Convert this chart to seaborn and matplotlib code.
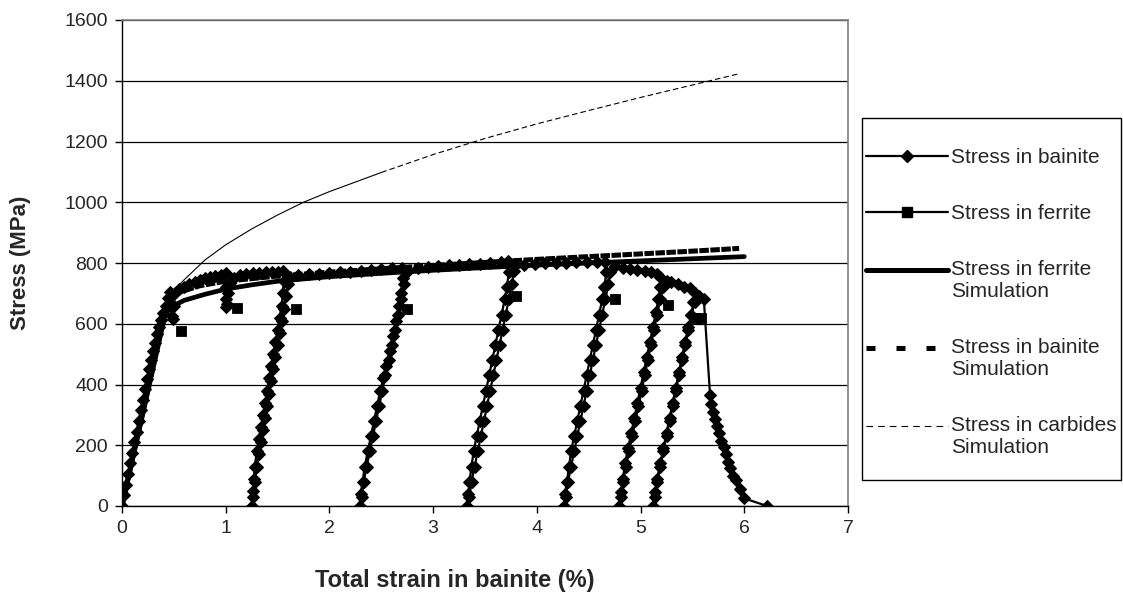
import numpy as np
import pandas as pd
import matplotlib
matplotlib.use("Agg")
import matplotlib.pyplot as plt
from matplotlib.lines import Line2D
from matplotlib.patches import Rectangle
from matplotlib.legend_handler import HandlerLine2D
from matplotlib.transforms import Affine2D
import seaborn as sns

# experimental stress in bainite (loading / unloading cycles)
bainite_strain = [
    0.00, 0.02, 0.04, 0.06, 0.08, 0.10, 0.12, 0.14, 0.16, 0.18, 0.20, 0.22, 0.24, 0.26, 0.28, 0.30,
    0.32, 0.34, 0.36, 0.38, 0.40, 0.42, 0.44, 0.46, 0.47, 0.48, 0.49, 0.50, 0.51,
    0.55, 0.60, 0.65, 0.70, 0.75, 0.80, 0.85, 0.90, 0.95, 1.00,
    1.00, 1.00, 1.00, 1.01, 1.02, 1.04, 1.08, 1.14, 1.20, 1.26, 1.32, 1.39, 1.45, 1.50, 1.55,
    # cycle 1
    1.56, 1.55, 1.54, 1.52, 1.50, 1.48, 1.46, 1.44, 1.42, 1.40, 1.38, 1.36, 1.34, 1.32, 1.30, 1.28, 1.27, 1.26, 1.25,
    1.26, 1.28, 1.30, 1.32, 1.34, 1.36, 1.38, 1.40, 1.42, 1.44, 1.46, 1.48, 1.50, 1.52, 1.54, 1.56, 1.58, 1.60, 1.62,
    1.70, 1.80, 1.90, 2.00, 2.10, 2.20, 2.30, 2.40, 2.50, 2.60, 2.70,
    # cycle 2
    2.71, 2.69, 2.67, 2.64, 2.61, 2.58, 2.55, 2.52, 2.49, 2.46, 2.43, 2.40, 2.37, 2.34, 2.32, 2.30, 2.29,
    2.31, 2.33, 2.36, 2.39, 2.42, 2.45, 2.48, 2.51, 2.54, 2.57, 2.60, 2.63, 2.66, 2.69, 2.72, 2.75,
    2.85, 2.95, 3.05, 3.15, 3.25, 3.35, 3.45, 3.55, 3.65, 3.72,
    # cycle 3
    3.73, 3.71, 3.69, 3.66, 3.63, 3.60, 3.57, 3.54, 3.51, 3.48, 3.45, 3.42, 3.39, 3.37, 3.35, 3.34, 3.33,
    3.35, 3.37, 3.40, 3.43, 3.46, 3.49, 3.52, 3.55, 3.58, 3.61, 3.64, 3.67, 3.70, 3.73, 3.76, 3.78,
    3.88, 3.98, 4.08, 4.18, 4.28, 4.38, 4.48, 4.58, 4.66,
    # cycle 4
    4.67, 4.65, 4.63, 4.60, 4.57, 4.54, 4.51, 4.48, 4.45, 4.42, 4.39, 4.36, 4.33, 4.31, 4.29, 4.27, 4.26,
    4.28, 4.30, 4.33, 4.36, 4.39, 4.42, 4.45, 4.48, 4.51, 4.54, 4.57, 4.60, 4.63, 4.66, 4.69, 4.71,
    4.75, 4.83, 4.90, 4.97, 5.04, 5.10, 5.16, 5.19,
    # cycle 5
    5.19, 5.17, 5.15, 5.12, 5.09, 5.06, 5.03, 5.00, 4.97, 4.94, 4.91, 4.88, 4.85, 4.83, 4.81, 4.79,
    4.81, 4.83, 4.86, 4.89, 4.92, 4.95, 4.98, 5.01, 5.04, 5.07, 5.10, 5.13, 5.16, 5.19, 5.22, 5.25,
    5.29, 5.36, 5.42, 5.48, 5.52,
    # cycle 6
    5.51, 5.49, 5.46, 5.43, 5.40, 5.37, 5.34, 5.31, 5.28, 5.25, 5.22, 5.19, 5.16, 5.14, 5.12,
    5.14, 5.16, 5.19, 5.22, 5.25, 5.28, 5.31, 5.34, 5.37, 5.40, 5.43, 5.46, 5.49, 5.52, 5.56, 5.61,
    # final failure
    5.67, 5.68, 5.70, 5.72, 5.74, 5.76, 5.78, 5.80, 5.82, 5.84, 5.86, 5.89, 5.92, 5.96, 6.00, 6.22,
]
bainite_stress = [
    0, 35, 70, 105, 140, 175, 210, 245, 280, 315, 350, 385, 418, 450, 480, 510,
    538, 565, 590, 612, 634, 660, 685, 705, 665, 625, 615, 660, 700,
    715, 722, 730, 738, 744, 750, 755, 758, 762, 768,
    720, 680, 655, 665, 700, 735, 752, 760, 765, 768, 768, 770, 770, 772, 775,
    740, 700, 660, 620, 580, 540, 500, 460, 420, 380, 340, 300, 260, 220, 180, 130, 90, 50, 0,
    30, 80, 130, 170, 210, 250, 290, 330, 370, 410, 450, 490, 530, 570, 610, 650, 690, 730, 755,
    760, 763, 765, 768, 770, 772, 775, 778, 780, 782, 785,
    750, 700, 660, 610, 560, 510, 460, 420, 380, 330, 280, 230, 180, 130, 80, 40, 0,
    30, 80, 130, 180, 230, 280, 330, 380, 430, 480, 530, 580, 630, 680, 730, 770,
    782, 787, 790, 792, 794, 796, 798, 800, 802, 805,
    770, 720, 680, 630, 580, 530, 480, 430, 380, 330, 280, 230, 180, 130, 80, 40, 0,
    30, 80, 130, 180, 230, 280, 330, 380, 430, 480, 530, 580, 630, 680, 730, 775,
    795, 798, 800, 800, 801, 802, 802, 803, 804,
    770, 720, 680, 630, 580, 530, 480, 430, 380, 330, 280, 230, 180, 130, 80, 40, 0,
    30, 80, 130, 180, 230, 280, 330, 380, 430, 480, 530, 580, 630, 680, 730, 770,
    790, 782, 780, 777, 774, 771, 765, 755,
    720, 680, 640, 590, 540, 490, 440, 390, 340, 290, 240, 190, 140, 90, 45, 0,
    30, 80, 130, 180, 230, 280, 330, 380, 430, 480, 530, 580, 630, 680, 720, 740,
    738, 730, 722, 717, 700,
    670, 630, 590, 540, 490, 440, 390, 340, 290, 240, 190, 140, 90, 45, 0,
    30, 80, 130, 180, 230, 280, 330, 380, 430, 480, 530, 580, 630, 670, 690, 680,
    365, 335, 310, 285, 262, 240, 215, 195, 170, 145, 125, 100, 85, 55, 25, 0,
]

# experimental stress in ferrite
ferrite_strain = [0.57, 1.11, 1.68, 2.75, 3.80, 4.75, 5.26, 5.52, 5.58]
ferrite_stress = [575, 653, 649, 648, 692, 683, 663, 620, 620]

# simulations
ferrite_sim_strain = [0.0, 0.42, 0.47, 0.50, 0.60, 0.80, 1.0, 1.25, 1.5, 2.0, 2.5, 3.0, 3.5, 4.0, 4.5, 5.0, 5.5, 6.0]
ferrite_sim_stress = [0, 635, 652, 660, 677, 697, 714, 728, 740, 755, 766, 776, 785, 793, 800, 807, 814, 821]

bainite_sim_strain = [0.0, 0.44, 0.50, 0.75, 1.0, 1.5, 2.0, 2.5, 3.0, 3.5, 4.0, 4.5, 5.0, 5.5, 5.95]
bainite_sim_stress = [0, 680, 698, 725, 740, 757, 770, 781, 792, 802, 812, 821, 830, 839, 848]

carbide_sim_strain = [0.45, 0.6, 0.8, 1.0, 1.25, 1.5, 1.75, 2.0, 2.5, 3.0, 3.5, 4.0, 4.5, 5.0, 5.5, 5.96]
carbide_sim_stress = [690, 745, 810, 860, 912, 958, 1000, 1035, 1098, 1157, 1210, 1258, 1302, 1345, 1386, 1424]

legend_labels = ['Stress in bainite', 'Stress in ferrite', 'Stress in ferrite\nSimulation',
                 'Stress in bainite\nSimulation', 'Stress in carbides\nSimulation']


class RaisedLine(HandlerLine2D):
    # put the legend sample level with the first text line
    def __init__(self, dy, **kw):
        super().__init__(**kw)
        self.dy = dy

    def create_artists(self, legend, orig_handle, xdescent, ydescent, width, height, fontsize, trans):
        return super().create_artists(legend, orig_handle, xdescent, ydescent, width, height,
                                      fontsize, Affine2D().translate(0, self.dy) + trans)


sns.set_style("white")
plt.rcParams['font.family'] = ['Liberation Sans', 'DejaVu Sans']

fig = plt.figure(figsize=(11.23, 5.98), dpi=100)
ax = fig.add_axes([122 / 1123, 1 - 506 / 598, 726 / 1123, 486 / 598])

df_bain = pd.DataFrame({'strain': bainite_strain, 'stress': bainite_stress})
df_fer = pd.DataFrame({'strain': ferrite_strain, 'stress': ferrite_stress})
df_fsim = pd.DataFrame({'strain': ferrite_sim_strain, 'stress': ferrite_sim_stress})
df_bsim = pd.DataFrame({'strain': bainite_sim_strain, 'stress': bainite_sim_stress})
df_csim = pd.DataFrame({'strain': carbide_sim_strain, 'stress': carbide_sim_stress})

# carbides: dense early points look solid in the original, dashed later on
sns.lineplot(data=df_csim[df_csim.strain <= 2.5], x='strain', y='stress', ax=ax, color='black',
             lw=0.8, sort=False, estimator=None)
sns.lineplot(data=df_csim[df_csim.strain >= 2.5], x='strain', y='stress', ax=ax, color='black',
             lw=0.8, linestyle=(0, (5, 2.8)), sort=False, estimator=None)
sns.lineplot(data=df_bain, x='strain', y='stress', ax=ax, color='black', lw=1.6,
             marker='D', markersize=6.5, markeredgecolor='black', sort=False, estimator=None)
sns.lineplot(data=df_fsim, x='strain', y='stress', ax=ax, color='black', lw=3.4,
             sort=False, estimator=None, solid_capstyle='round')
sns.lineplot(data=df_bsim, x='strain', y='stress', ax=ax, color='black', lw=3.6,
             linestyle=(0, (1.9, 0.3)), sort=False, estimator=None)
sns.scatterplot(data=df_fer, x='strain', y='stress', ax=ax, color='black', marker='s',
                s=55, edgecolor='black', zorder=5)

ax.set_xlim(0, 7)
ax.set_ylim(0, 1600)
ax.set_xticks(range(0, 8))
ax.set_yticks(range(0, 1601, 200))
ax.yaxis.grid(True, color='black', lw=0.9)
ax.xaxis.grid(False)
ax.set_axisbelow(True)
ax.tick_params(axis='both', direction='out', length=5, width=1, color='black',
               labelsize=14, bottom=True, left=True, pad=5)
for side in ['left', 'bottom']:
    ax.spines[side].set_color('black')
    ax.spines[side].set_linewidth(1)
for side in ['top', 'right']:
    ax.spines[side].set_color('#808080')
    ax.spines[side].set_linewidth(1.2)

ax.set_xlabel('Total strain in bainite (%)', fontsize=17, fontweight='bold')
ax.set_ylabel('Stress (MPa)', fontsize=16, fontweight='bold')
ax.xaxis.set_label_coords(0.458, -0.13)
ax.yaxis.set_label_coords(-0.125, 0.5)

handles = [
    Line2D([], [], color='black', lw=1.6, marker='D', markersize=6),
    Line2D([], [], color='black', lw=1.6, marker='s', markersize=7),
    Line2D([], [], color='black', lw=3.6, solid_capstyle='round'),
    Line2D([], [], color='black', lw=3.6, linestyle=(0, (1.8, 4.2))),
    Line2D([], [], color='black', lw=0.8, linestyle=(0, (6, 4.5))),
]
raised = {h: RaisedLine(8) for h in handles[2:]}
leg = fig.legend(handles, legend_labels, loc='upper left',
                 bbox_to_anchor=(866 / 1123, 1 - 148 / 598), fontsize=15,
                 handlelength=3.95, handletextpad=0.15, labelspacing=1.78,
                 borderpad=0, borderaxespad=0, frameon=False,
                 handler_map=raised)

# legend border
fig.patches.append(Rectangle((862 / 1123, 1 - 480 / 598), 259 / 1123, 362 / 598,
                             transform=fig.transFigure, fill=False, edgecolor='black', lw=1))

fig.savefig('out.png', dpi=100)
